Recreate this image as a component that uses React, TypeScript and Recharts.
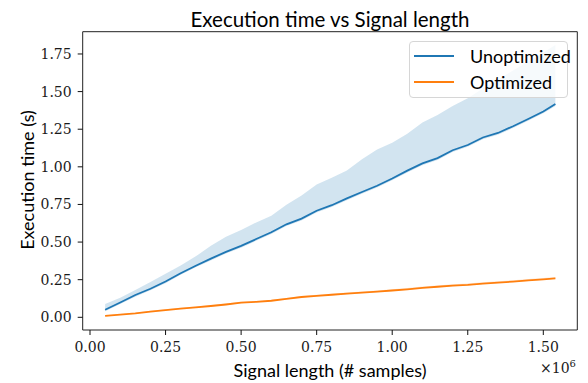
import React from 'react';
import { ComposedChart, Line, Area, XAxis, YAxis, ReferenceArea } from 'recharts';

const signalLength = [
  50000, 100000, 150000, 200000, 250000, 300000, 350000, 400000, 450000, 500000,
  550000, 600000, 650000, 700000, 750000, 800000, 850000, 900000, 950000, 1000000,
  1050000, 1100000, 1150000, 1200000, 1250000, 1300000, 1350000, 1400000, 1450000, 1500000,
  1540000,
];
const unoptMean = [
  0.05, 0.098, 0.148, 0.19, 0.238, 0.293, 0.343, 0.39, 0.435, 0.475,
  0.52, 0.565, 0.618, 0.656, 0.708, 0.745, 0.79, 0.833, 0.874, 0.922,
  0.975, 1.023, 1.058, 1.11, 1.145, 1.195, 1.225, 1.27, 1.318, 1.368,
  1.417,
];
const unoptLow = [
  0.04, 0.088, 0.137, 0.18, 0.226, 0.282, 0.332, 0.378, 0.424, 0.463,
  0.508, 0.553, 0.606, 0.644, 0.696, 0.733, 0.778, 0.821, 0.862, 0.91,
  0.963, 1.011, 1.046, 1.098, 1.133, 1.183, 1.213, 1.258, 1.306, 1.356,
  1.405,
];
const unoptHigh = [
  0.088, 0.13, 0.181, 0.235, 0.29, 0.345, 0.405, 0.475, 0.535, 0.58,
  0.63, 0.675, 0.748, 0.81, 0.882, 0.928, 0.975, 1.05, 1.115, 1.16,
  1.22, 1.295, 1.345, 1.405, 1.455, 1.52, 1.58, 1.64, 1.7, 1.76,
  1.81,
];
const optMean = [
  0.009, 0.018, 0.026, 0.038, 0.048, 0.058, 0.066, 0.075, 0.085, 0.097,
  0.103, 0.11, 0.122, 0.135, 0.143, 0.15, 0.157, 0.164, 0.17, 0.178,
  0.186, 0.196, 0.203, 0.21, 0.215, 0.224, 0.231, 0.237, 0.245, 0.252,
  0.259,
];
const optLow = [
  0.006, 0.015, 0.023, 0.035, 0.045, 0.055, 0.063, 0.072, 0.082, 0.094,
  0.1, 0.107, 0.119, 0.132, 0.14, 0.147, 0.154, 0.161, 0.167, 0.175,
  0.183, 0.193, 0.2, 0.207, 0.212, 0.221, 0.228, 0.234, 0.242, 0.249,
  0.256,
];
const optHigh = [
  0.013, 0.022, 0.031, 0.043, 0.053, 0.063, 0.071, 0.081, 0.091, 0.103,
  0.109, 0.117, 0.129, 0.142, 0.15, 0.157, 0.164, 0.171, 0.178, 0.186,
  0.194, 0.204, 0.211, 0.219, 0.224, 0.233, 0.24, 0.246, 0.254, 0.261,
  0.268,
];

const xTicks = [0, 250000, 500000, 750000, 1000000, 1250000, 1500000];
const yTicks = [0, 0.25, 0.5, 0.75, 1.0, 1.25, 1.5, 1.75];
const xDomain: [number, number] = [-24200, 1612500];
const yDomain: [number, number] = [-0.0844, 1.898];

const seriesNames = ['Unoptimized', 'Optimized'];
const seriesColors = ['#1f77b4', '#ff7f0e'];

const data = signalLength.map((x, i) => ({
  x,
  unopt: unoptMean[i],
  unoptBand: [unoptLow[i], unoptHigh[i]],
  opt: optMean[i],
  optBand: [optLow[i], optHigh[i]],
}));

const SANS = 'Lato, "DejaVu Sans", sans-serif';
const SERIF = 'DejaVu Serif';

const XTick = (props: any) => {
  const { x, y, payload } = props;
  return (
    <text x={x} y={y + 10} textAnchor="middle" dominantBaseline="central"
      fontFamily={SERIF} fontSize={14} fill="#1a1a1a">
      {(payload.value / 1e6).toFixed(2)}
    </text>
  );
};

const YTick = (props: any) => {
  const { x, y, payload } = props;
  return (
    <text x={x} y={y} textAnchor="end" dominantBaseline="central"
      fontFamily={SERIF} fontSize={14} fill="#1a1a1a">
      {Number(payload.value).toFixed(2)}
    </text>
  );
};

export default function App() {
  const W = 588;
  const H = 383;
  return (
    <div style={{ position: 'absolute', left: 0, top: 0, width: W, height: H, background: '#fff' }}>
      <ComposedChart
        width={W}
        height={H}
        data={data}
        margin={{ top: 31.7, right: 10.7, bottom: 0, left: 0 }}
      >
        <XAxis
          dataKey="x"
          type="number"
          domain={xDomain}
          ticks={xTicks}
          allowDataOverflow
          axisLine={false}
          tickLine={{ stroke: '#111', strokeWidth: 1 }}
          tickSize={5}
          tickMargin={2}
          height={53}
          tick={<XTick />}
        />
        <YAxis
          type="number"
          domain={yDomain}
          ticks={yTicks}
          allowDataOverflow
          axisLine={false}
          tickLine={{ stroke: '#111', strokeWidth: 1 }}
          tickSize={5}
          tickMargin={6}
          width={82.7}
          tick={<YTick />}
        />
        <Area
          dataKey="unoptBand"
          type="linear"
          stroke="none"
          fill={seriesColors[0]}
          fillOpacity={0.2}
          isAnimationActive={false}
          activeDot={false}
        />
        <Area
          dataKey="optBand"
          type="linear"
          stroke="none"
          fill={seriesColors[1]}
          fillOpacity={0.2}
          isAnimationActive={false}
          activeDot={false}
        />
        <Line
          dataKey="unopt"
          type="linear"
          stroke={seriesColors[0]}
          strokeWidth={1.8}
          dot={false}
          activeDot={false}
          isAnimationActive={false}
        />
        <Line
          dataKey="opt"
          type="linear"
          stroke={seriesColors[1]}
          strokeWidth={1.8}
          dot={false}
          activeDot={false}
          isAnimationActive={false}
        />
        <ReferenceArea
          x1={xDomain[0]}
          x2={xDomain[1]}
          y1={yDomain[0]}
          y2={yDomain[1]}
          fill="none"
          fillOpacity={0}
          stroke="#222"
          strokeWidth={1}
          ifOverflow="visible"
        />
      </ComposedChart>

      <svg
        width={W}
        height={H}
        style={{ position: 'absolute', left: 0, top: 0, pointerEvents: 'none' }}
      >
        <text x={330} y={19} textAnchor="middle" dominantBaseline="central"
          style={{ fontFamily: SANS, fontSize: 20.5 }} fill="#000">
          Execution time vs Signal length
        </text>
        <text x={330} y={370} textAnchor="middle" dominantBaseline="central"
          style={{ fontFamily: SANS, fontSize: 18 }} fill="#000">
          Signal length (# samples)
        </text>
        <text x={26.7} y={180} textAnchor="middle" dominantBaseline="central"
          style={{ fontFamily: SANS, fontSize: 18 }} fill="#000"
          transform="rotate(-90 26.7 180)">
          Execution time (s)
        </text>
        <text x={540} y={373} fontFamily={SERIF} fontSize={14} fill="#1a1a1a">
          ×10<tspan fontSize={10} dy={-6}>6</tspan>
        </text>
      </svg>

      <div
        style={{
          position: 'absolute',
          left: 409,
          top: 41,
          width: 159,
          height: 57,
          boxSizing: 'border-box',
          border: '1px solid #d6d6d6',
          borderRadius: 4,
          background: 'rgba(255,255,255,0.8)',
          fontFamily: SANS,
          fontSize: 18,
          color: '#000',
        }}
      >
        {seriesNames.map((name, i) => (
          <React.Fragment key={name}>
            <div
              style={{
                position: 'absolute',
                left: 4,
                top: (i === 0 ? 14 : 39.7) - 1,
                width: 40,
                height: 2,
                background: seriesColors[i],
              }}
            />
            <div
              style={{
                position: 'absolute',
                left: 60,
                top: (i === 0 ? 14 : 39.7) - 12,
                height: 24,
                lineHeight: '24px',
                whiteSpace: 'nowrap',
              }}
            >
              {name}
            </div>
          </React.Fragment>
        ))}
      </div>
    </div>
  );
}
